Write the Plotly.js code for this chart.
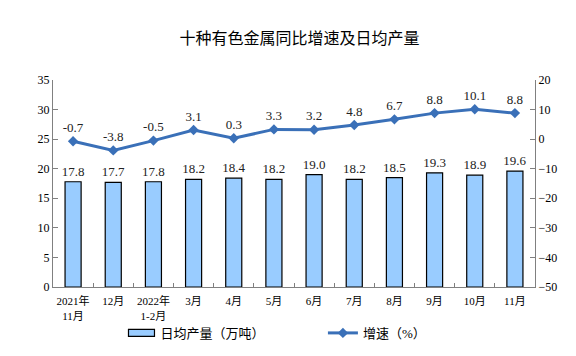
<!DOCTYPE html>
<html><head><meta charset="utf-8">
<script src="https://cdn.plot.ly/plotly-3.0.1.min.js"></script>
<style>html,body{margin:0;padding:0;background:#fff}#chart{width:576px;height:356px}</style>
</head><body><div id="chart"></div>
<script>
const categories = ["2021年<br>11月","12月","2022年<br>1-2月","3月","4月","5月","6月","7月","8月","9月","10月","11月"];
const dailyOutput = [17.8,17.7,17.8,18.2,18.4,18.2,19.0,18.2,18.5,19.3,18.9,19.6];
const growth = [-0.7,-3.8,-0.5,3.1,0.3,3.3,3.2,4.8,6.7,8.8,10.1,8.8];
const leftTicks = [0,5,10,15,20,25,30,35];
const rightTicks = [-50,-40,-30,-20,-10,0,10,20];

const numFont = "'Liberation Serif','Noto Sans CJK SC',serif";
const cjkFont = "'Liberation Serif','Noto Sans CJK SC',serif";

const traces = [
  {type:'bar', x:categories, y:dailyOutput, name:'日均产量（万吨）', width:0.4,
   marker:{color:'#99CCFF', line:{color:'#000000', width:1.2}},
   text:dailyOutput.map(v=>v.toFixed(1)), textposition:'outside', cliponaxis:false,
   constraintext:'none',
   textfont:{family:numFont, size:13, color:'#222'}, hoverinfo:'skip', legend:'legend'},
  {type:'scatter', mode:'lines+markers+text', x:categories, y:growth, yaxis:'y2', name:'增速（%）',
   line:{color:'#3A70B8', width:3}, marker:{symbol:'diamond', size:8, color:'#3A70B8'},
   text:growth.map(v=>v.toFixed(1)), textposition:'top center', cliponaxis:false,
   textfont:{family:numFont, size:13, color:'#222'}, hoverinfo:'skip', legend:'legend2'}
];

const legendFont = {family:cjkFont, size:13, color:'#000'};
const layout = {
  width:576, height:356,
  margin:{l:53, r:41, t:80, b:69, autoexpand:false},
  paper_bgcolor:'#fff', plot_bgcolor:'#fff',
  title:{text:'十种有色金属同比增速及日均产量', x:0.52, xanchor:'center', y:0.893, yanchor:'middle',
         font:{family:"'Noto Sans CJK SC',sans-serif", size:16, color:'#000'}},
  showlegend:true,
  legend:{orientation:'h', x:0.14, xanchor:'left', y:-0.222, yanchor:'middle',
          font:legendFont, bgcolor:'rgba(0,0,0,0)'},
  legend2:{orientation:'h', x:0.56, xanchor:'left', y:-0.222, yanchor:'middle',
          font:legendFont, bgcolor:'rgba(0,0,0,0)'},
  bargap:0.6,
  xaxis:{type:'category', range:[-0.5, 11.5], showline:true, linecolor:'#808080', linewidth:1,
         ticks:'inside', tickson:'boundaries', ticklen:4, tickcolor:'#808080', tickangle:0,
         ticklabelstandoff:4,
         tickfont:{family:cjkFont, size:11, color:'#000'}, showgrid:false, zeroline:false,
         automargin:false},
  yaxis:{range:[0,35], tickvals:leftTicks, showline:true, linecolor:'#808080', linewidth:1,
         ticks:'inside', ticklen:5, tickcolor:'#808080', showgrid:false, zeroline:false,
         tickfont:{family:numFont, size:12, color:'#000'}, automargin:false},
  yaxis2:{range:[-50,20], tickvals:rightTicks, overlaying:'y', side:'right',
          showline:true, linecolor:'#808080', linewidth:1,
          ticks:'inside', ticklen:5, tickcolor:'#808080', showgrid:false, zeroline:false,
          tickfont:{family:numFont, size:12, color:'#000'}, automargin:false}
};

function widenSwatch() {
  document.querySelectorAll('#chart g.legendpoints path').forEach(p => {
    const d = p.getAttribute('d') || '';
    if (/^M6,6H-6V-6H6Z$/.test(d.replace(/\s/g,'')) || p.classList.contains('legendbar')) {
      p.setAttribute('d', 'M14,3.5H-12V-3.5H14Z');
    }
  });
}
const gd = document.getElementById('chart');
Plotly.newPlot(gd, traces, layout, {staticPlot:true, displayModeBar:false}).then(() => {
  widenSwatch();
  setTimeout(widenSwatch, 0);
  setTimeout(widenSwatch, 50);
});
gd.on && gd.on('plotly_afterplot', widenSwatch);
</script></body></html>
